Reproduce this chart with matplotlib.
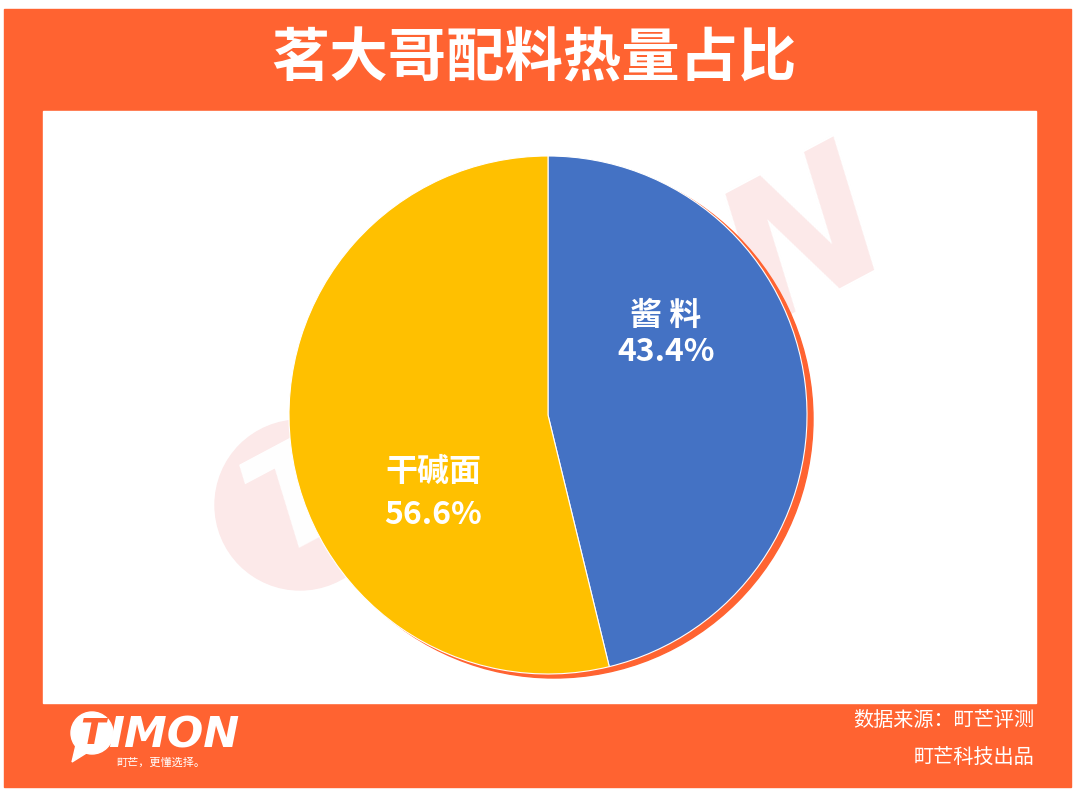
import matplotlib
matplotlib.use('Agg')
import matplotlib.pyplot as plt
from matplotlib.patches import Rectangle, Circle, Polygon

plt.rcParams['font.family'] = ['Noto Sans CJK SC', 'DejaVu Sans']

## chart data
title = '茗大哥配料热量占比'
labels = ['酱 料', '干碱面']
pct_labels = [43.4, 56.6]
# the drawn slices in the picture are a bit off from the printed percentages,
# so the wedge sizes are read from the picture separately
slice_sizes = [46.2, 53.8]
colors = ['#4472C4', '#FFC000']
source = '数据来源：町芒评测'
credit = '町芒科技出品'
brand = 'TIMON'
slogan = '町芒，更懂选择。'

W, H = 1080, 796
orange = '#FF6331'
pink = '#FCE9E9'


def Y(y):
    # pixel row (from top) -> data y
    return H - y


fig = plt.figure(figsize=(10.8, 7.96), dpi=100)
ax = fig.add_axes([0, 0, 1, 1])

# frame and white panel
ax.add_patch(Rectangle((4, Y(787)), 1067, 778, color=orange, zorder=0))
ax.add_patch(Rectangle((43, Y(703)), 993, 592, color='white', zorder=1))

# faint watermark logo behind the pie
ax.add_patch(Circle((300, Y(505)), 85, color=pink, zorder=2))
ax.text(300, Y(500), brand[0], color='white', fontsize=100, fontweight='bold',
        fontstyle='italic', family='DejaVu Sans', rotation=28,
        ha='center', va='center', rotation_mode='anchor', zorder=2)
ax.text(624, Y(342), brand[1:], color=pink, fontsize=135, fontweight='bold',
        fontstyle='italic', family='DejaVu Sans', rotation=28,
        ha='center', va='center', rotation_mode='anchor', zorder=2)

# orange shadow under the pie
cx, cy, r = 548, Y(415), 259
ax.add_patch(Circle((cx + 6, cy - 4), r, color=orange, zorder=3))

wedges, _ = ax.pie(slice_sizes, colors=colors, startangle=90, counterclock=False,
                   center=(cx, cy), radius=r, explode=[0.014, 0],
                   wedgeprops=dict(edgecolor='white', linewidth=0.8, zorder=4))

# slice labels
label_pos = [(666, 316, 352), (433, 472, 515)]
for lab, val, (x, y1, y2) in zip(labels, pct_labels, label_pos):
    ax.text(x, Y(y1), lab, color='white', fontsize=23, fontweight='bold',
            ha='center', va='center', zorder=5)
    ax.text(x, Y(y2), f'{val}%', color='white', fontsize=23, fontweight='bold',
            ha='center', va='center', zorder=5)

# title
ax.text(534, Y(60), title, color='white', fontsize=42, fontweight='bold',
        ha='center', va='center', zorder=5)

# footer right
ax.text(1034, Y(721), source, color='white', fontsize=14.5,
        ha='right', va='center', zorder=5)
ax.text(1034, Y(758), credit, color='white', fontsize=14.5,
        ha='right', va='center', zorder=5)

# footer logo
ax.add_patch(Circle((92, Y(733)), 21, color='white', zorder=5))
ax.add_patch(Polygon([(76, Y(745)), (72, Y(762)), (88, Y(752))],
                     closed=True, color='white', zorder=5))
ax.text(93, Y(734), brand[0], color=orange, fontsize=26, fontweight='bold',
        fontstyle='italic', family='DejaVu Sans', ha='center', va='center', zorder=6)
ax.text(108, Y(736), brand[1:], color='white', fontsize=31, fontweight='bold',
        fontstyle='italic', family='DejaVu Sans', ha='left', va='center', zorder=6)
ax.text(116, Y(763), slogan, color='white', fontsize=8,
        ha='left', va='center', zorder=6)

ax.set_xlim(0, W)
ax.set_ylim(0, H)
ax.set_aspect('auto')
ax.axis('off')

fig.savefig('out.png', dpi=100, facecolor='white')
